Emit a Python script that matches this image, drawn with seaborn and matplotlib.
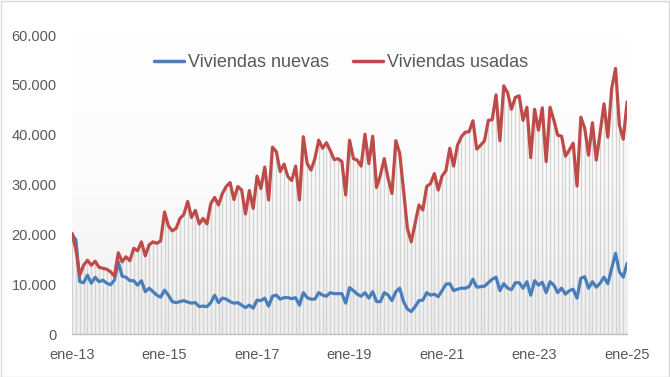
import numpy as np
import pandas as pd
import matplotlib
matplotlib.use("Agg")
import matplotlib.pyplot as plt
import seaborn as sns
from matplotlib.patches import Rectangle
from matplotlib.ticker import FuncFormatter

# Monthly values (thousands of dwellings), ene-13 .. ene-25
nuevas_k = [20.0, 18.9, 10.5, 10.3, 11.8, 10.2, 11.4, 10.5, 10.8, 10.2, 9.9, 10.8,
            14.5, 11.6, 11.4, 10.7, 10.7, 9.8, 10.7, 8.5, 9.2, 8.5, 7.8, 7.4,
            8.8, 7.8, 6.5, 6.3, 6.5, 6.7, 6.4, 6.2, 6.3, 5.5, 5.6, 5.5,
            6.3, 7.8, 6.3, 7.2, 7.0, 6.5, 6.2, 6.3, 5.8, 5.3, 5.8, 5.2,
            6.8, 6.7, 7.2, 5.6, 7.6, 7.8, 7.0, 7.3, 7.3, 7.1, 7.3, 5.8,
            8.3, 7.3, 7.0, 7.0, 8.3, 7.8, 7.6, 8.3, 8.1, 8.1, 8.1, 6.2,
            9.3, 8.7, 8.0, 7.6, 8.3, 7.2, 8.5, 6.5, 6.5, 8.3, 7.8, 6.7,
            8.5, 9.2, 6.5, 5.0, 4.5, 5.5, 6.7, 6.8, 8.3, 7.8, 8.0, 7.5,
            8.7, 10.0, 10.1, 8.7, 9.0, 9.2, 9.2, 9.5, 11.0, 9.4, 9.5, 9.6,
            10.3, 11.0, 11.4, 8.7, 10.1, 9.2, 8.9, 10.3, 10.3, 9.2, 10.5, 7.8,
            10.7, 9.8, 10.4, 8.3, 10.5, 9.8, 8.3, 9.2, 8.0, 8.7, 9.0, 7.2,
            11.2, 11.5, 9.2, 10.5, 9.4, 10.2, 11.4, 10.1, 13.2, 16.2, 12.5, 11.4,
            14.2]
usadas_k = [20.2, 17.0, 11.8, 13.8, 14.8, 13.8, 14.6, 13.4, 13.2, 13.0, 12.5, 11.6,
            16.3, 14.5, 15.5, 14.7, 17.2, 16.7, 18.5, 15.7, 17.9, 18.5, 18.2, 18.7,
            24.5, 21.7, 20.7, 21.2, 23.2, 24.0, 26.6, 23.4, 24.8, 22.1, 23.2, 22.1,
            26.2, 27.4, 25.9, 28.2, 29.6, 30.4, 27.0, 29.6, 28.9, 24.1, 28.8, 25.2,
            31.7, 29.2, 33.5, 26.9, 37.5, 36.6, 32.6, 34.1, 31.6, 30.8, 33.7, 26.9,
            39.6, 34.2, 32.9, 35.2, 38.9, 37.3, 38.4, 36.8, 35.0, 35.2, 34.6, 27.9,
            38.9, 35.2, 34.9, 33.7, 40.1, 34.2, 39.7, 29.4, 31.9, 35.2, 31.2, 28.2,
            38.8, 36.3, 28.9, 21.2, 18.5, 22.2, 25.9, 24.9, 29.6, 30.2, 32.2, 28.9,
            31.7, 32.8, 37.3, 33.7, 37.9, 39.6, 40.5, 40.6, 42.8, 37.1, 37.9, 38.8,
            42.9, 43.0, 48.0, 38.8, 49.8, 48.4, 45.1, 47.5, 47.8, 42.9, 45.5, 35.4,
            45.1, 40.9, 45.4, 34.6, 45.5, 42.9, 39.9, 39.7, 35.7, 36.9, 38.3, 29.7,
            43.5, 41.3, 35.9, 42.4, 34.9, 40.4, 46.2, 39.5, 49.3, 53.3, 41.9, 39.1,
            46.6]
tick_labels = ["ene-13", "ene-15", "ene-17", "ene-19", "ene-21", "ene-23", "ene-25"]
series_names = ["Viviendas nuevas", "Viviendas usadas"]

nuevas = np.array(nuevas_k) * 1000
usadas = np.array(usadas_k) * 1000
idx = np.arange(len(nuevas))

df = pd.DataFrame({
    "mes": np.concatenate([idx, idx]),
    "valor": np.concatenate([nuevas, usadas]),
    "serie": [series_names[0]] * len(idx) + [series_names[1]] * len(idx),
})

sns.set_theme(style="white")
plt.rcParams["font.family"] = ["Liberation Sans", "DejaVu Sans"]

fig = plt.figure(figsize=(6.7, 3.77), dpi=100)
ax = fig.add_axes([0.1075, 0.114, 0.8285, 0.793])

# gradient background of plot area
grad = np.linspace(0, 1, 256).reshape(-1, 1)
ax.imshow(grad, extent=[0, 144, 0, 60000], aspect="auto", origin="upper",
          cmap=matplotlib.colors.LinearSegmentedColormap.from_list(
              "g", ["#ffffff", "#fbfbfb", "#efefef"]), zorder=0)

# drop lines
top = np.maximum(nuevas, usadas)
ax.vlines(idx, 0, top, colors="#d3d3d3", linewidth=1.0, zorder=1)

palette = {series_names[0]: "#4A7EBB", series_names[1]: "#BE4B48"}
sns.lineplot(data=df, x="mes", y="valor", hue="serie", palette=palette,
             linewidth=2.3, ax=ax, zorder=3, legend=True)

ax.set_xlim(0, 144)
ax.set_ylim(0, 60000)
ax.set_yticks(np.arange(0, 60001, 10000))
ax.yaxis.set_major_formatter(FuncFormatter(lambda v, p: f"{v:,.0f}".replace(",", ".")))
ax.set_xticks(np.arange(0, 145, 24))
ax.set_xticklabels(tick_labels)
ax.set_xlabel("")
ax.set_ylabel("")
for s in ["top", "right", "left"]:
    ax.spines[s].set_visible(False)
ax.spines["bottom"].set_color("#bfbfbf")
ax.spines["bottom"].set_linewidth(1.0)
ax.tick_params(axis="x", colors="#595959", labelsize=10.5, length=5, width=0.8,
               direction="out", color="#bfbfbf", pad=5)
ax.tick_params(axis="y", colors="#595959", labelsize=10.5, length=0, pad=11)
ax.grid(False)

leg = ax.legend(loc="upper center", bbox_to_anchor=(0.485, 0.99), ncol=2,
                frameon=False, fontsize=13, handlelength=1.65, columnspacing=1.3,
                handletextpad=0.25, labelcolor="#595959")
for line in leg.get_lines():
    line.set_linewidth(2.5)

fig.patches.append(Rectangle((0.001, 0.001), 0.997, 0.997, transform=fig.transFigure,
                             fill=False, edgecolor="#d9d9d9", linewidth=1.0))

fig.savefig("out.png", dpi=100)
